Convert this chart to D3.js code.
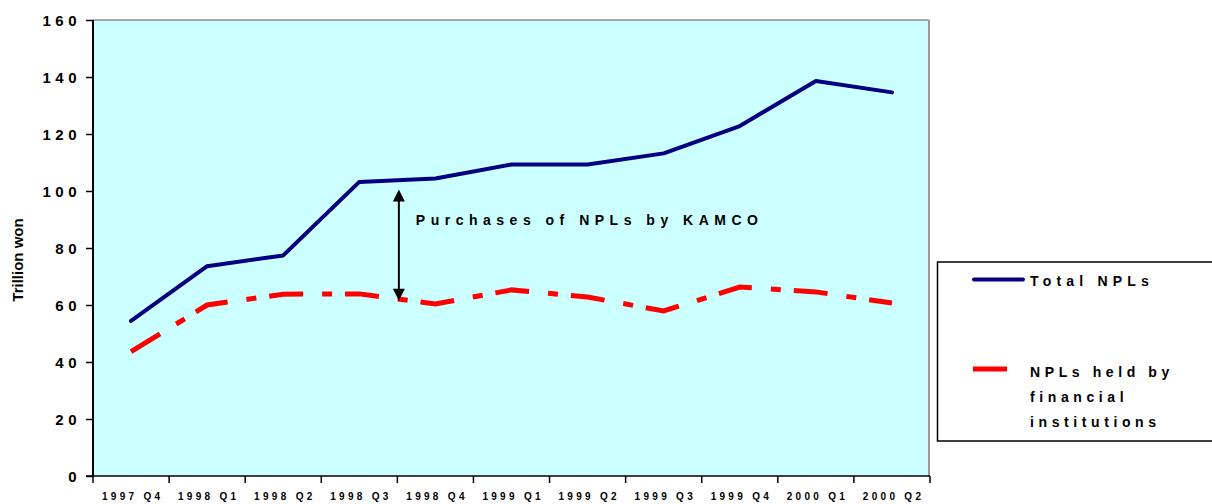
<!DOCTYPE html>
<html>
<head>
<meta charset="utf-8">
<script src="https://cdn.jsdelivr.net/npm/d3@7"></script>
<style>
  html, body { margin: 0; padding: 0; background: #ffffff; }
  svg { display: block; }
  text { font-family: Arial, "Liberation Sans", Helvetica, sans-serif; font-weight: bold; fill: #000; }
</style>
</head>
<body>
<svg id="chart" width="1212" height="504"></svg>
<script>
// Quarterly non-performing loans, trillion won
const quarters = ["1997 Q4", "1998 Q1", "1998 Q2", "1998 Q3", "1998 Q4", "1999 Q1",
                  "1999 Q2", "1999 Q3", "1999 Q4", "2000 Q1", "2000 Q2"];
const totalNPLs = [54.4, 73.6, 77.4, 103.2, 104.4, 109.3, 109.3, 113.2, 122.8, 138.6, 134.6];
const heldNPLs  = [43.6, 60.0, 63.8, 63.9, 60.4, 65.3, 62.8, 57.9, 66.3, 64.6, 60.7];
const yTicks = [0, 20, 40, 60, 80, 100, 120, 140, 160];

// Bracket showing the gap bought up by KAMCO
const kamcoBracket = { at: "1998 Q4", top: 100.5, bottom: 61.5, label: "Purchases of NPLs by KAMCO" };

const seriesNames = ["Total NPLs", ["NPLs held by", "financial", "institutions"]];

const svg = d3.select("#chart");
const plot = { left: 93, right: 930, top: 20, bottom: 476 };

const x = d3.scaleBand().domain(quarters).range([plot.left, plot.right]);
const y = d3.scaleLinear().domain([0, 160]).range([plot.bottom, plot.top]);
const cx = q => x(q) + x.bandwidth() / 2;

// plot background
svg.append("rect")
  .attr("x", plot.left).attr("y", plot.top)
  .attr("width", plot.right - plot.left).attr("height", plot.bottom - plot.top)
  .attr("fill", "#ccffff");

// frame: grey top and right edges
svg.append("line").attr("x1", plot.left).attr("x2", plot.right - 1)
  .attr("y1", plot.top).attr("y2", plot.top)
  .attr("stroke", "#8c8c8c").attr("stroke-width", 1.5);
svg.append("line").attr("x1", plot.right - 1).attr("x2", plot.right - 1)
  .attr("y1", plot.top).attr("y2", plot.bottom)
  .attr("stroke", "#999999").attr("stroke-width", 2);

// y axis
const yAxis = d3.axisLeft(y).tickValues(yTicks).tickSize(7).tickPadding(0).tickFormat(d3.format("d"));
const gy = svg.append("g").attr("transform", `translate(${plot.left},0)`).call(yAxis);
gy.select(".domain").attr("stroke", "#000").attr("stroke-width", 2)
  .attr("d", `M0,${plot.top}V${plot.bottom}`);
gy.selectAll(".tick line").attr("stroke", "#000").attr("stroke-width", 1.5);
gy.selectAll(".tick text")
  .attr("x", -12).attr("dy", "0.36em")
  .style("font-size", "15px").style("letter-spacing", "4.5px")
  .style("font-family", "Arial, 'Liberation Sans', sans-serif").style("font-weight", "bold")
  .attr("fill", "#000");

// x axis
const xAxis = d3.axisBottom(x).tickSize(0).tickPadding(0);
const gx = svg.append("g").attr("transform", `translate(0,${plot.bottom})`).call(xAxis);
gx.select(".domain").attr("stroke", "#000").attr("stroke-width", 1.5)
  .attr("d", `M${plot.left - 7},0H${plot.right}`);
gx.selectAll(".tick text")
  .attr("y", 24).attr("dy", 0).attr("dx", "1.6px")
  .style("font-size", "10px").style("letter-spacing", "3.3px")
  .style("font-family", "Arial, 'Liberation Sans', sans-serif").style("font-weight", "bold")
  .attr("fill", "#000");
// category boundary ticks
const bounds = quarters.map(q => x(q)).concat([plot.right]);
svg.append("g").selectAll("line").data(bounds).join("line")
  .attr("x1", d => d).attr("x2", d => d)
  .attr("y1", plot.bottom).attr("y2", plot.bottom + 7)
  .attr("stroke", "#000").attr("stroke-width", 1.5);

// y axis title
svg.append("text")
  .attr("transform", `translate(23,${(plot.top + plot.bottom) / 2 + 12}) rotate(-90)`)
  .attr("text-anchor", "middle")
  .style("font-size", "15px")
  .text("Trillion won");

// series lines
const line = d3.line().x((d, i) => cx(quarters[i])).y(d => y(d));

svg.append("path").datum(heldNPLs)
  .attr("d", line).attr("fill", "none")
  .attr("stroke", "#ff0000").attr("stroke-width", 5)
  .attr("stroke-dasharray", "34,19,10,13")
  .attr("stroke-linejoin", "miter").attr("stroke-linecap", "butt");

svg.append("path").datum(totalNPLs)
  .attr("d", line).attr("fill", "none")
  .attr("stroke", "#000080").attr("stroke-width", 4)
  .attr("stroke-linejoin", "round").attr("stroke-linecap", "round");

// KAMCO bracket: double-headed arrow plus caption
const ax = x(kamcoBracket.at) + 1.5;
const yTop = y(kamcoBracket.top), yBot = y(kamcoBracket.bottom);
const head = 12, half = 6;
svg.append("line").attr("x1", ax).attr("x2", ax)
  .attr("y1", yTop + head - 1).attr("y2", yBot - head + 1)
  .attr("stroke", "#000").attr("stroke-width", 2);
svg.append("path")
  .attr("d", `M${ax},${yTop}L${ax - half},${yTop + head}L${ax + half},${yTop + head}Z`)
  .attr("fill", "#000");
svg.append("path")
  .attr("d", `M${ax},${yBot}L${ax - half},${yBot - head}L${ax + half},${yBot - head}Z`)
  .attr("fill", "#000");
svg.append("text")
  .attr("x", ax + 17).attr("y", y(88))
  .style("font-size", "14px").style("letter-spacing", "5.5px")
  .text(kamcoBracket.label);

// legend
const lg = svg.append("g");
lg.append("rect").attr("x", 937.5).attr("y", 262).attr("width", 290).attr("height", 179)
  .attr("fill", "#fff").attr("stroke", "#000").attr("stroke-width", 1.5);
lg.append("line").attr("x1", 974).attr("x2", 1023).attr("y1", 279.5).attr("y2", 279.5)
  .attr("stroke", "#000080").attr("stroke-width", 4).attr("stroke-linecap", "round");
lg.append("text").attr("x", 1030).attr("y", 286)
  .style("font-size", "14px").style("letter-spacing", "5.2px")
  .text(seriesNames[0]);
lg.append("line").attr("x1", 973).attr("x2", 1007).attr("y1", 369).attr("y2", 369)
  .attr("stroke", "#ff0000").attr("stroke-width", 5);
lg.append("text").selectAll("tspan").data(seriesNames[1]).join("tspan")
  .attr("x", 1030).attr("y", (d, i) => 377 + i * 25)
  .style("font-size", "14px").style("letter-spacing", "4.6px")
  .text(d => d);
</script>
</body>
</html>
